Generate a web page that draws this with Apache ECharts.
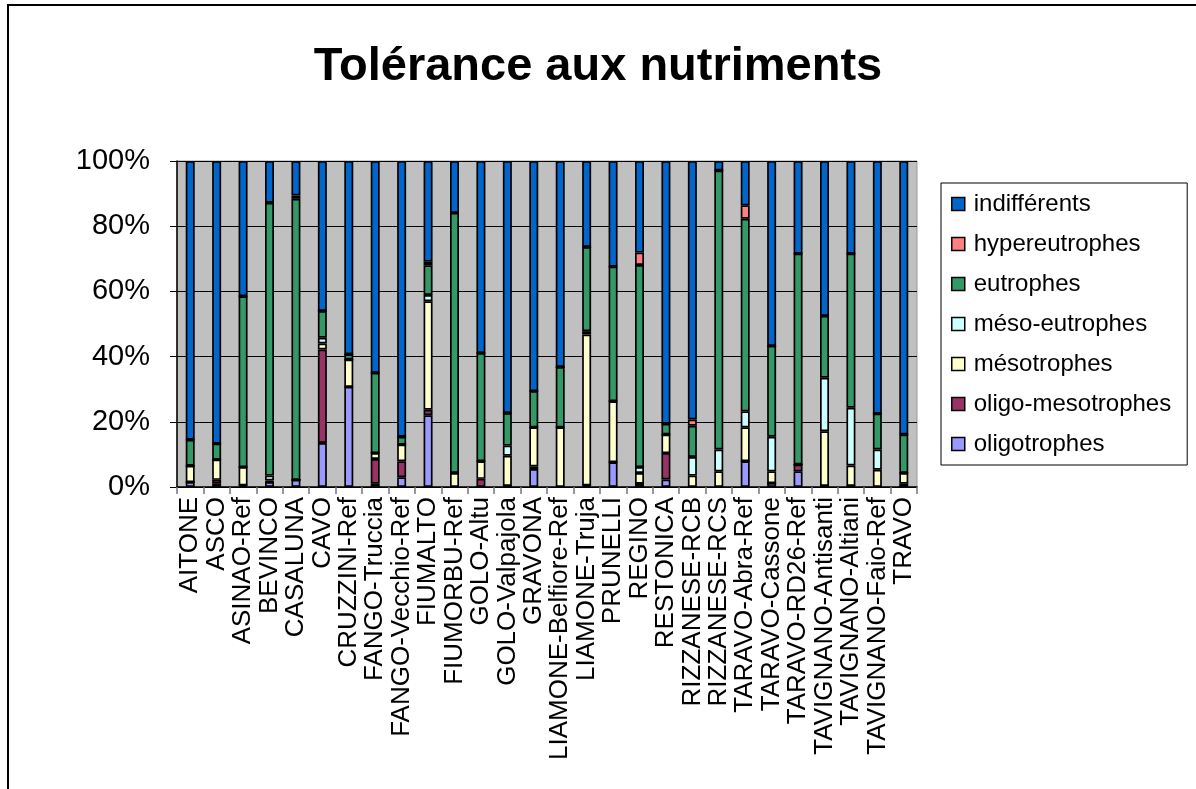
<!DOCTYPE html>
<html>
<head>
<meta charset="utf-8">
<script src="https://cdn.jsdelivr.net/npm/echarts@6/dist/echarts.min.js"></script>
<style>
html,body{margin:0;padding:0;background:#fff;}
#frame{position:absolute;left:7px;top:4px;width:1189px;height:785px;border-top:2px solid #000;border-left:2px solid #000;}
#chart{position:absolute;left:0;top:0;width:1196px;height:789px;}
</style>
</head>
<body>
<div id="frame"></div>
<div id="chart"></div>
<script>
const categories = ["AITONE","ASCO","ASINAO-Ref","BEVINCO","CASALUNA","CAVO","CRUZZINI-Ref","FANGO-Truccia","FANGO-Vecchio-Ref","FIUMALTO","FIUMORBU-Ref","GOLO-Altu","GOLO-Valpajola","GRAVONA","LIAMONE-Belfiore-Ref","LIAMONE-Truja","PRUNELLI","REGINO","RESTONICA","RIZZANESE-RCB","RIZZANESE-RCS","TARAVO-Abra-Ref","TARAVO-Cassone","TARAVO-RD26-Ref","TAVIGNANO-Antisanti","TAVIGNANO-Altiani","TAVIGNANO-Faio-Ref","TRAVO"];

const oligotrophes      = [1.5,1,0.5,1.5,2.2,13.5,30.7,1,3,22,0,0,0.3,5.5,0,0.5,7.6,1,2.3,0,0,7.9,1.2,4.8,0.3,0.3,0,0];
const oligoMesotrophes  = [0,1.2,0,0,0,28.7,0,7.6,4.9,1.7,0,2.5,0,0.8,0,0,0,0,8.1,0,0,0,0,2.1,0,0,0,1];
const mesotrophes       = [5,6.2,5.6,0.5,0,1.8,8.4,1.8,5.1,33.3,4.3,5.4,9.3,12,18.3,46.3,18.7,3.3,5.7,3.5,4.8,10.4,3.6,0,16.8,6.3,5.3,3.3];
const mesoEutrophes     = [0,0,0,1.5,0,1.8,0,0,0,1.9,0,0,3.1,0,0,1,0,1.8,0,5.7,6.7,4.9,10.6,0,16.4,17.7,6.2,0];
const eutrophes         = [8,4.9,52.4,83.7,86.2,8.2,1.6,24.6,2.4,9.1,79.8,33.2,10,11.1,18.5,25.8,41.3,62,3.3,9.6,85.6,59.1,27.9,64.7,19,47.3,11,11.8];
const hypereutrophes    = [0,0,0,0,1,0,0,0,0,1.1,0,0,0,0,0,0,0,3.8,0,1.9,0,4.1,0,0,0,0,0,0];
const indifferents      = [85.5,86.7,41.5,12.8,10.6,46,59.3,65,84.6,30.9,15.9,58.9,77.3,70.6,63.2,26.4,32.4,28.1,80.6,79.3,2.9,13.6,56.7,28.4,47.5,28.4,77.5,83.9];

const seriesNames = ["oligotrophes","oligo-mesotrophes","mésotrophes","méso-eutrophes","eutrophes","hypereutrophes","indifférents"];
const seriesColors = ["#9999FF","#993366","#FFFFCC","#CCFFFF","#339966","#FF8080","#0066CC"];
const seriesData = [oligotrophes,oligoMesotrophes,mesotrophes,mesoEutrophes,eutrophes,hypereutrophes,indifferents];
const yTicks = [0,20,40,60,80,100];

const font = "'Liberation Sans', Arial, sans-serif";
const chart = echarts.init(document.getElementById('chart'), null, {renderer:'canvas'});

chart.setOption({
  animation: false,
  backgroundColor: 'transparent',
  title: {
    text: 'Tolérance aux nutriments',
    left: 'center',
    top: 39,
    textStyle: {fontFamily: font, fontSize: 47, fontWeight: 'bold', color: '#000'}
  },
  legend: {
    orient: 'vertical',
    left: 941,
    top: 183,
    padding: [9, 16, 9, 10],
    borderColor: '#000',
    borderWidth: 1,
    backgroundColor: '#fff',
    itemWidth: 13,
    itemHeight: 13,
    itemGap: 16,
    icon: 'rect',
    data: seriesNames.slice().reverse(),
    itemStyle: {borderColor: '#000', borderWidth: 1.5},
    textStyle: {fontFamily: font, fontSize: 24, color: '#000', lineHeight: 24, padding: [0,0,0,4]}
  },
  grid: {
    left: 177, top: 161, width: 740, height: 326,
    show: true, backgroundColor: '#C0C0C0', borderColor: '#999', borderWidth: 1
  },
  xAxis: {
    type: 'category',
    data: categories,
    axisLine: {lineStyle: {color: '#000', width: 1.5}},
    axisTick: {show: true, alignWithLabel: false, length: 7, lineStyle: {color: '#777', width: 1.5}},
    axisLabel: {rotate: 90, interval: 0, margin: 10, fontFamily: font, fontSize: 26, color: '#000'},
    splitLine: {show: false}
  },
  yAxis: {
    type: 'value',
    min: 0, max: 100, interval: 20,
    axisLine: {show: true, lineStyle: {color: '#000', width: 1.5}},
    axisTick: {show: true, length: 7, lineStyle: {color: '#000'}},
    axisLabel: {formatter: v => yTicks.includes(v) ? v + '%' : '', margin: 27, fontFamily: font, fontSize: 29, color: '#000'},
    splitLine: {show: true, lineStyle: {color: '#000', width: 1}}
  },
  series: seriesNames.map((name, i) => ({
    name: name,
    type: 'bar',
    stack: 'total',
    barWidth: 9,
    data: seriesData[i],
    itemStyle: {color: seriesColors[i], borderColor: '#000', borderWidth: 1.7}
  }))
});
</script>
</body>
</html>
